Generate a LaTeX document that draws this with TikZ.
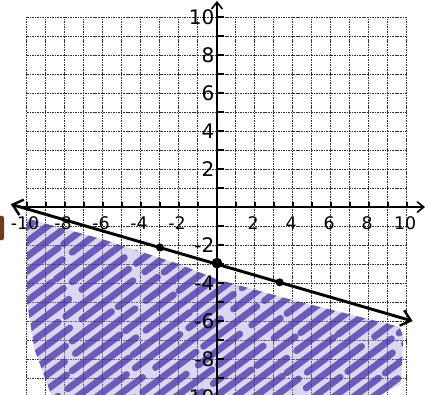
\documentclass[tikz,border=0pt]{standalone}
\usepackage{fontspec}
\setmainfont{DejaVu Sans}
\usetikzlibrary{arrows.meta}
\definecolor{ink}{RGB}{66,44,165}
\definecolor{inklight}{RGB}{165,155,222}
\definecolor{stain}{RGB}{110,60,30}
\begin{document}
\begin{tikzpicture}[x=0.5cm,y=0.5cm,
  gridline/.style={draw=black!80, line width=0.75pt, dash pattern=on 1.2pt off 0.7pt},
  axis/.style={line width=1.5pt},
  tickmark/.style={line width=1.1pt},
  xlbl/.style={font=\fontsize{13}{13}\selectfont, inner sep=0pt},
  ylbl/.style={font=\fontsize{15}{15}\selectfont, inner sep=0pt, anchor=east},
  dot/.style={circle, fill=black, inner sep=0pt, minimum size=#1},
  hatch/.style={draw=ink, line width=5pt, line cap=round, opacity=0.72}]
\useasboundingbox (-11.42,-9.84) rectangle (11.16,10.9);
\fill[white] (-11.42,-9.84) rectangle (11.16,10.9);
% grid
\foreach \i in {-10,...,10} {
  \draw[gridline] (\i,-10.2) -- (\i,10);
  \draw[gridline] (-10,\i) -- (10,\i);
}
% shading
\begin{scope}
  \clip (-10,-0.6) -- (-6,-1.7) -- (-2,-3.0) -- (0,-3.8) -- (4,-4.9) -- (9.6,-6.3)
        -- (9.8,-6.8) -- (9.7,-9.3) -- (8.5,-9.95) -- (-8.7,-9.95) -- (-9.6,-7.5)
        -- (-10,-5) -- cycle;
  \fill[inklight, opacity=0.4] (-11,-11) rectangle (11,1);
  \foreach \k in {0,...,34} {
    \pgfmathsetmacro{\c}{-18.5+\k*0.78}
    \pgfmathsetmacro{\on}{35+mod(\k*11,30)}
    \pgfmathsetmacro{\off}{4+mod(\k*5,9)}
    \pgfmathsetmacro{\ph}{mod(\k*23,60)}
    \draw[hatch, dash pattern=on \on pt off \off pt, dash phase=\ph pt]
      (-11,{-11*0.75+\c}) -- (11,{11*0.75+\c});
  }
\end{scope}
% axes
\draw[axis,-{Straight Barb[length=5pt,width=8pt,line width=1.2pt]}] (0,-10.3) -- (0,10.85);
\draw[axis,-{Straight Barb[length=5pt,width=8pt,line width=1.2pt]}] (-10.4,0) -- (10.95,0);
\foreach \i in {-10,...,10} {
  \draw[tickmark] (\i,0) -- (\i,0.28);
  \draw[tickmark] (0,\i) -- (0.35,\i);
}
% labels
\foreach \i in {-10,-8,-6,-4,-2,2,4,6,8,10}
  \node[xlbl] (x\i) at (\i-0.1,-0.85) {\i};
\foreach \i in {10,8,6,4,2,-2,-4,-6,-8,-10}
  \node[ylbl] (y\i) at (-0.12,\i) {\i};
% boundary line
\coordinate (L) at (-10.85,0.15);
\coordinate (R) at (10.3,-6.0);
\draw[line width=2.2pt,
  {Straight Barb[length=7pt,width=12pt,line width=1.8pt]}-{Straight Barb[length=7pt,width=12pt,line width=1.8pt]}]
  (L) -- (R);
\node[dot=6pt] (p1) at (-3,-2.13) {};
\node[dot=8pt] (p2) at (0,-2.95) {};
\node[dot=6pt] (p3) at (3.3,-3.96) {};
% stain at left edge
\fill[stain, rounded corners=2pt] (-11.5,-0.45) rectangle (-11.2,-1.75);
\end{tikzpicture}
\end{document}
